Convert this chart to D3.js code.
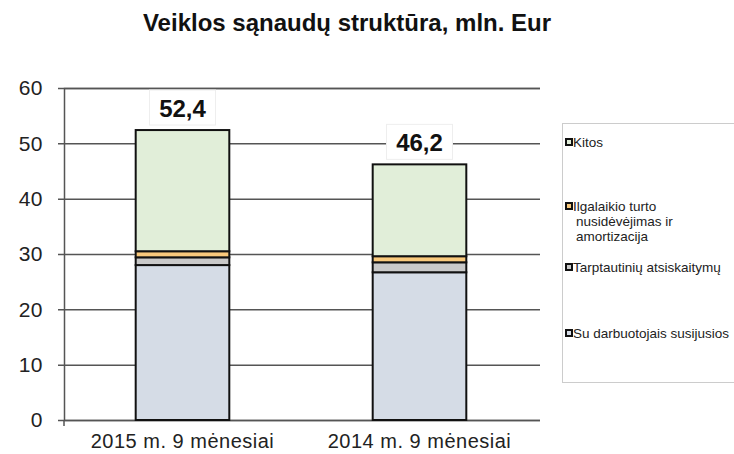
<!DOCTYPE html>
<html>
<head>
<meta charset="utf-8">
<title>Veiklos sąnaudų struktūra</title>
<style>
  body {margin: 0; background: #fff;}
  svg {display: block; font-family: "Liberation Sans", Arial, sans-serif;}
</style>
</head>
<body>
<svg id="chart" width="734" height="454"></svg>
<script src="https://cdn.jsdelivr.net/npm/d3@7"></script>
<script>
// data (mln. Eur)
var categories = ["2015 m. 9 mėnesiai", "2014 m. 9 mėnesiai"];
var seriesNames = ["Su darbuotojais susijusios", "Tarptautinių atsiskaitymų",
                   "Ilgalaikio turto nusidėvėjimas ir amortizacija", "Kitos"];
var staff = [28.0, 26.7];
var intl = [1.4, 1.8];
var depreciation = [1.1, 1.1];
var other = [21.9, 16.6];
var totals = ["52,4", "46,2"];
var yTicks = [0, 10, 20, 30, 40, 50, 60];

var colors = ["#d5dce6", "#c9c9c9", "#f9c97c", "#e1eed9"];

var svg = d3.select("#chart");
var plotLeft = 64, plotRight = 540, plotTop = 88, plotBottom = 420;

var x = d3.scaleBand().domain(categories).range([plotLeft, 538])
          .paddingInner(0.605).paddingOuter(0.3025);
var y = d3.scaleLinear().domain([0, 60]).range([plotBottom, plotTop]);

var rows = categories.map(function(c, i) {
  return {cat: c, s0: staff[i], s1: intl[i], s2: depreciation[i], s3: other[i]};
});
var stack = d3.stack().keys(["s0", "s1", "s2", "s3"]);
var layers = stack(rows);

// title
svg.append("text")
   .attr("x", 347).attr("y", 31)
   .attr("text-anchor", "middle")
   .attr("font-size", 24).attr("font-weight", "bold")
   .attr("fill", "#111")
   .text("Veiklos sąnaudų struktūra, mln. Eur");

// y axis + gridlines
var yAxis = svg.append("g")
   .attr("transform", "translate(" + plotLeft + ",0)")
   .call(d3.axisLeft(y).tickValues(yTicks).tickSize(-(plotRight - plotLeft)).tickPadding(21));
yAxis.select(".domain").attr("stroke", "#555").attr("stroke-width", 1.5);
yAxis.selectAll(".tick line").attr("x1", -6).attr("stroke", "#555").attr("stroke-width", 1.5);
yAxis.selectAll(".tick text").attr("font-size", 21).attr("fill", "#222")
     .attr("letter-spacing", 0.5)
     .attr("font-family", "Liberation Sans, Arial, sans-serif");

// x labels
var xAxis = svg.append("g")
   .attr("transform", "translate(0," + plotBottom + ")")
   .call(d3.axisBottom(x).tickSize(0).tickPadding(14));
xAxis.select(".domain").remove();
xAxis.selectAll(".tick text").attr("font-size", 20).attr("fill", "#222")
     .attr("letter-spacing", 0.5)
     .attr("font-family", "Liberation Sans, Arial, sans-serif");

// small tick below the axis at the origin
svg.append("line")
   .attr("x1", plotLeft).attr("x2", plotLeft)
   .attr("y1", plotBottom).attr("y2", plotBottom + 6)
   .attr("stroke", "#555").attr("stroke-width", 1.5);

// stacked bars
svg.append("g").selectAll("g").data(layers).enter().append("g")
   .attr("fill", function(d, i) {return colors[i];})
   .selectAll("rect").data(function(d) {return d;}).enter().append("rect")
   .attr("x", function(d) {return x(d.data.cat);})
   .attr("width", x.bandwidth())
   .attr("y", function(d) {return y(d[1]);})
   .attr("height", function(d) {return y(d[0]) - y(d[1]);})
   .attr("stroke", "#111").attr("stroke-width", 2);

// total labels
var labels = svg.append("g").selectAll("g").data(rows).enter().append("g")
   .attr("transform", function(d) {
     var t = d.s0 + d.s1 + d.s2 + d.s3;
     return "translate(" + (x(d.cat) + x.bandwidth() / 2) + "," + (y(t) - 5) + ")";
   });
labels.append("rect")
   .attr("x", -33).attr("y", -35).attr("width", 66).attr("height", 35)
   .attr("fill", "#fff").attr("stroke", "#eee");
labels.append("text")
   .attr("y", -8).attr("text-anchor", "middle")
   .attr("font-size", 24).attr("font-weight", "bold").attr("fill", "#111")
   .text(function(d, i) {return totals[i];});

// legend
var legend = svg.append("g");
legend.append("rect")
   .attr("x", 562.5).attr("y", 123.5).attr("width", 200).attr("height", 259)
   .attr("fill", "#fff").attr("stroke", "#ccc");

var legendItems = [
  {name: ["Kitos"], c: 3, y: 142},
  {name: ["Ilgalaikio turto", "nusidėvėjimas ir", "amortizacija"], c: 2, y: 206},
  {name: ["Tarptautinių atsiskaitymų"], c: 1, y: 267},
  {name: ["Su darbuotojais susijusios"], c: 0, y: 333}
];
var li = legend.selectAll(".li").data(legendItems).enter().append("g")
   .attr("transform", function(d) {return "translate(566," + d.y + ")";});
li.append("rect")
   .attr("x", 0).attr("y", -3).attr("width", 6).attr("height", 6)
   .attr("fill", function(d) {return colors[d.c];})
   .attr("stroke", "#111").attr("stroke-width", 2);
li.append("text")
   .attr("x", 7).attr("y", 4.5)
   .attr("font-size", 13.5).attr("fill", "#222")
   .selectAll("tspan").data(function(d) {return d.name;}).enter().append("tspan")
   .attr("x", function(d, i) {return i === 0 ? 7 : 10;})
   .attr("dy", function(d, i) {return i === 0 ? 0 : 15;})
   .text(function(d) {return d;});
</script>
</body>
</html>
